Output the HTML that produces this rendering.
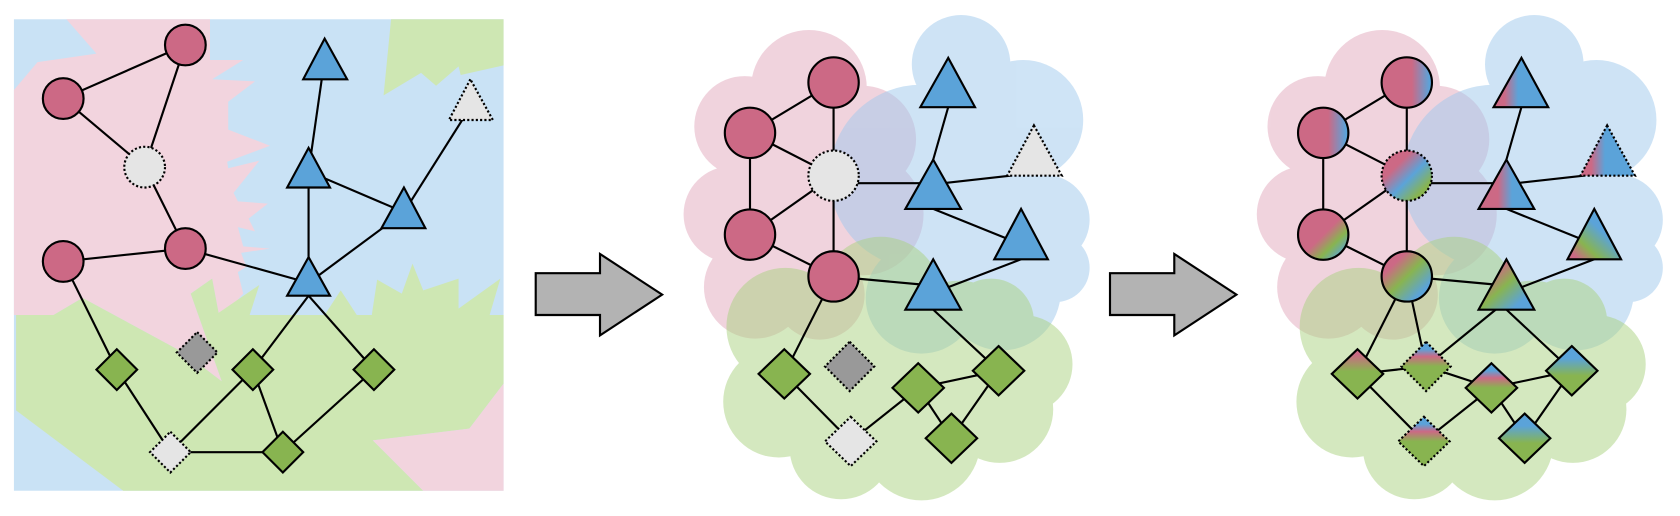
<!DOCTYPE html>
<html><head><meta charset="utf-8"><style>html,body{margin:0;padding:0;background:#fff}svg{display:block}</style></head>
<body>
<svg width="1680" height="516" viewBox="0 0 1568 481.6" xmlns="http://www.w3.org/2000/svg">
<defs>
<linearGradient id="gH" x1="0" y1="0" x2="1" y2="0"><stop offset="0.6" stop-color="#cc6985"/><stop offset="0.95" stop-color="#5ba3d9"/></linearGradient>
<linearGradient id="gT" x1="0" y1="0" x2="1" y2="0"><stop offset="0.2" stop-color="#cc6985"/><stop offset="0.45" stop-color="#5ba3d9"/></linearGradient>
<linearGradient id="gT3" x1="0" y1="0" x2="1" y2="0"><stop offset="0.35" stop-color="#cc6985"/><stop offset="0.6" stop-color="#5ba3d9"/></linearGradient>
<linearGradient id="gD1" x1="0" y1="0" x2="1" y2="1"><stop offset="0.3" stop-color="#cc6985"/><stop offset="0.55" stop-color="#5ba3d9"/><stop offset="0.8" stop-color="#88b450"/></linearGradient>
<linearGradient id="gD2" x1="0" y1="0" x2="1" y2="1"><stop offset="0.5" stop-color="#cc6985"/><stop offset="0.7" stop-color="#88b450"/><stop offset="0.9" stop-color="#5ba3d9"/></linearGradient>
<linearGradient id="gD3" x1="0" y1="0" x2="1" y2="1"><stop offset="0.25" stop-color="#cc6985"/><stop offset="0.5" stop-color="#88b450"/><stop offset="0.8" stop-color="#5ba3d9"/></linearGradient>
<linearGradient id="gT4" x1="0" y1="1" x2="1" y2="0"><stop offset="0.1" stop-color="#cc6985"/><stop offset="0.3" stop-color="#88b450"/><stop offset="0.6" stop-color="#5ba3d9"/></linearGradient>
<linearGradient id="gV1" x1="0" y1="0" x2="0" y2="1"><stop offset="0.15" stop-color="#5ba3d9"/><stop offset="0.3" stop-color="#cc6985"/><stop offset="0.5" stop-color="#88b450"/></linearGradient>
<linearGradient id="gV2" x1="0" y1="0" x2="0" y2="1"><stop offset="0.1" stop-color="#cc6985"/><stop offset="0.45" stop-color="#88b450"/></linearGradient>
<linearGradient id="gV3" x1="0" y1="0" x2="0" y2="1"><stop offset="0.25" stop-color="#5ba3d9"/><stop offset="0.6" stop-color="#88b450"/></linearGradient>
<g id="blobs">
 <g opacity="0.5" fill="#e3a9bd">
  <circle cx="1290" cy="82" r="54"/><circle cx="1230" cy="118" r="47"/><circle cx="1218" cy="200" r="45"/><circle cx="1240" cy="268" r="48"/><circle cx="1340" cy="130" r="50"/><circle cx="1340" cy="200" r="57"/><circle cx="1285" cy="175" r="70"/><circle cx="1300" cy="275" r="42"/>
 </g>
 <g opacity="0.5" fill="#9fc9ed">
  <circle cx="1432" cy="60" r="46"/><circle cx="1490" cy="112" r="56"/><circle cx="1510" cy="205" r="42"/><circle cx="1395" cy="165" r="86"/><circle cx="1455" cy="200" r="70"/><circle cx="1470" cy="272" r="55"/><circle cx="1395" cy="278" r="52"/><circle cx="1520" cy="250" r="32"/>
 </g>
 <g opacity="0.5" fill="#aad280">
  <circle cx="1357" cy="278" r="57"/><circle cx="1268" cy="305" r="55"/><circle cx="1262" cy="375" r="52"/><circle cx="1320" cy="418" r="48"/><circle cx="1395" cy="412" r="55"/><circle cx="1468" cy="382" r="50"/><circle cx="1490" cy="340" r="46"/><circle cx="1430" cy="322" r="60"/><circle cx="1345" cy="352" r="62"/><circle cx="1460" cy="300" r="40"/>
 </g>
</g>
</defs>

<!-- Panel 1 -->
<rect x="13" y="18" width="457" height="440" fill="#c9e2f5"/>
<polygon fill="#f2d4de" points="62,18 196,18 196,56 227,56 198,74 238,76 213,95 213,121 252,136 212,151 213,157 242,150 218,180 222,188 250,190 232,204 238,216 222,212 227,230 252,232 225,236 230,249 222,254 227,274 217,285 204,292 198,260 178,274 207,356 173,330 77,278 50,294 13,294 13,84 35,58 90,50"/>
<polygon fill="#cee7b3" points="365,18 470,18 470,61 430,70 428,62 407,80 393,68 358,89"/>
<polygon fill="#cee7b3" points="15,294 50,294 77,278 173,330 207,356 178,274 198,260 204,292 242,266 233,294 303,294 318,271 333,294 347,294 352,261 375,274 385,246 395,271 428,260 428,288 467,260 457,294 470,294 470,358 438,400 348,411 395,458 115,458 15,383"/>
<polygon fill="#f2d4de" points="470,358 438,400 348,411 395,458 470,458"/>
<g stroke="#000" stroke-width="2" fill="none">
<line x1="59" y1="92" x2="173" y2="42"/><line x1="59" y1="92" x2="135" y2="156"/><line x1="135" y1="156" x2="173" y2="42"/><line x1="135" y1="156" x2="173" y2="232"/><line x1="59" y1="244" x2="173" y2="232"/><line x1="173" y1="232" x2="288" y2="264"/>
<line x1="303" y1="55" x2="288" y2="160"/><line x1="288" y1="160" x2="288" y2="264"/><line x1="288" y1="160" x2="377" y2="198"/><line x1="377" y1="198" x2="439" y2="100"/><line x1="377" y1="198" x2="288" y2="264"/>
<line x1="59" y1="244" x2="109" y2="345"/><line x1="109" y1="345" x2="159" y2="422"/><line x1="159" y1="422" x2="236" y2="345"/><line x1="159" y1="422" x2="264" y2="422"/><line x1="236" y1="345" x2="264" y2="422"/><line x1="236" y1="345" x2="288" y2="276"/><line x1="349" y1="345" x2="288" y2="276"/><line x1="349" y1="345" x2="264" y2="422"/>
</g>
<g stroke="#000" stroke-width="2">
<circle cx="173" cy="42" r="19" fill="#cc6985"/><circle cx="59" cy="92" r="19" fill="#cc6985"/><circle cx="173" cy="232" r="19" fill="#cc6985"/><circle cx="59" cy="244" r="19" fill="#cc6985"/>
<circle cx="135" cy="156" r="19" fill="#e5e5e5" stroke-dasharray="2,2"/>
<polygon points="303,36 283,74 324,74" fill="#5ba3d9"/><polygon points="288,138 268,175 308,175" fill="#5ba3d9"/><polygon points="377,175 356,213 397,213" fill="#5ba3d9"/><polygon points="288,240 268,276 308,276" fill="#5ba3d9"/>
<polygon points="439,74 419,112 460,112" fill="#e5e5e5" stroke-dasharray="2,2"/>
<polygon points="109,326 128,345 109,364 90,345" fill="#88b450"/><polygon points="236,326 255,345 236,364 217,345" fill="#88b450"/><polygon points="349,326 368,345 349,364 330,345" fill="#88b450"/><polygon points="264,403 283,422 264,441 245,422" fill="#88b450"/>
<polygon points="184,310 203,329 184,348 165,329" fill="#999" stroke-dasharray="2,2"/>
<polygon points="159,403 178,422 159,441 140,422" fill="#e5e5e5" stroke-dasharray="2,2"/>
</g>

<!-- Arrows -->
<polygon points="500,255 560,255 560,237 618,275 560,313 560,294 500,294" fill="#b3b3b3" stroke="#000" stroke-width="2"/>
<polygon points="1036,255 1096,255 1096,237 1154,275 1096,313 1096,294 1036,294" fill="#b3b3b3" stroke="#000" stroke-width="2"/>

<!-- Panel 2 -->
<g transform="translate(-535,0)">
<use href="#blobs"/>
<g stroke="#000" stroke-width="2" fill="none">
<line x1="1313" y1="77" x2="1235" y2="124"/><line x1="1313" y1="77" x2="1313" y2="164"/><line x1="1235" y1="124" x2="1313" y2="164"/><line x1="1235" y1="124" x2="1235" y2="219"/><line x1="1235" y1="219" x2="1313" y2="164"/><line x1="1235" y1="219" x2="1313" y2="258"/><line x1="1313" y1="164" x2="1313" y2="258"/><line x1="1313" y1="171" x2="1400" y2="171"/>
<line x1="1420" y1="100" x2="1406" y2="149"/><line x1="1406" y1="172" x2="1478" y2="164"/><line x1="1406" y1="195" x2="1478" y2="224"/><line x1="1488" y1="242" x2="1415" y2="270"/><line x1="1313" y1="258" x2="1400" y2="266"/>
<line x1="1313" y1="258" x2="1267" y2="349"/><line x1="1406" y1="289" x2="1467" y2="346"/><line x1="1267" y1="349" x2="1329" y2="412"/><line x1="1329" y1="412" x2="1392" y2="362"/><line x1="1392" y1="362" x2="1467" y2="346"/><line x1="1392" y1="362" x2="1423" y2="409"/><line x1="1423" y1="409" x2="1467" y2="346"/>
</g>
<g stroke="#000" stroke-width="2">
<circle cx="1313" cy="77" r="23.5" fill="#cc6985"/><circle cx="1235" cy="124" r="23.5" fill="#cc6985"/><circle cx="1235" cy="219" r="23.5" fill="#cc6985"/><circle cx="1313" cy="258" r="23.5" fill="#cc6985"/>
<circle cx="1313" cy="164" r="23.5" fill="#e5e5e5" stroke-dasharray="2,2"/>
<polygon points="1420,54 1394,100 1445,100" fill="#5ba3d9"/><polygon points="1406,149 1380,195 1432,195" fill="#5ba3d9"/><polygon points="1488,195 1463,242 1513,242" fill="#5ba3d9"/><polygon points="1406,242 1380,289 1432,289" fill="#5ba3d9"/>
<polygon points="1500,117 1475,164 1526,164" fill="#e5e5e5" stroke-dasharray="2,2"/>
<polygon points="1267,326 1291,349 1267,372 1243,349" fill="#88b450"/>
<polygon points="1328,319 1351,342 1328,365 1305,342" fill="#999" stroke-dasharray="2,2"/>
<polygon points="1392,339 1416,362 1392,385 1368,362" fill="#88b450"/>
<polygon points="1467,323 1491,346 1467,369 1443,346" fill="#88b450"/>
<polygon points="1329,389 1353,412 1329,435 1305,412" fill="#e5e5e5" stroke-dasharray="2,2"/>
<polygon points="1423,386 1447,409 1423,432 1399,409" fill="#88b450"/>
</g>
</g>

<!-- Panel 3 -->
<use href="#blobs"/>
<g stroke="#000" stroke-width="2" fill="none">
<line x1="1313" y1="77" x2="1235" y2="124"/><line x1="1313" y1="77" x2="1313" y2="164"/><line x1="1235" y1="124" x2="1313" y2="164"/><line x1="1235" y1="124" x2="1235" y2="219"/><line x1="1235" y1="219" x2="1313" y2="164"/><line x1="1235" y1="219" x2="1313" y2="258"/><line x1="1313" y1="164" x2="1313" y2="258"/><line x1="1313" y1="171" x2="1400" y2="171"/>
<line x1="1420" y1="100" x2="1406" y2="149"/><line x1="1406" y1="172" x2="1478" y2="164"/><line x1="1406" y1="195" x2="1478" y2="224"/><line x1="1488" y1="242" x2="1415" y2="270"/><line x1="1313" y1="258" x2="1400" y2="266"/>
<line x1="1313" y1="258" x2="1267" y2="349"/><line x1="1313" y1="258" x2="1331" y2="342"/><line x1="1331" y1="342" x2="1396" y2="289"/><line x1="1406" y1="289" x2="1467" y2="346"/>
<line x1="1267" y1="349" x2="1331" y2="342"/><line x1="1331" y1="342" x2="1392" y2="362"/><line x1="1267" y1="349" x2="1329" y2="412"/><line x1="1329" y1="412" x2="1392" y2="362"/><line x1="1392" y1="362" x2="1467" y2="346"/><line x1="1392" y1="362" x2="1423" y2="409"/><line x1="1423" y1="409" x2="1467" y2="346"/>
</g>
<g stroke="#000" stroke-width="2">
<circle cx="1313" cy="77" r="23.5" fill="url(#gH)"/><circle cx="1235" cy="124" r="23.5" fill="url(#gH)"/><circle cx="1235" cy="219" r="23.5" fill="url(#gD2)"/><circle cx="1313" cy="258" r="23.5" fill="url(#gD3)"/>
<circle cx="1313" cy="164" r="23.5" fill="url(#gD1)" stroke-dasharray="2,2"/>
<polygon points="1420,54 1394,100 1445,100" fill="url(#gT)"/><polygon points="1406,149 1380,195 1432,195" fill="url(#gT3)"/><polygon points="1488,195 1463,242 1513,242" fill="url(#gT4)"/><polygon points="1406,242 1380,289 1432,289" fill="url(#gD3)"/>
<polygon points="1500,117 1475,164 1526,164" fill="url(#gT)" stroke-dasharray="2,2"/>
<polygon points="1267,326 1291,349 1267,372 1243,349" fill="url(#gV2)"/>
<polygon points="1331,319 1354,342 1331,365 1308,342" fill="url(#gV1)" stroke-dasharray="2,2"/>
<polygon points="1392,339 1416,362 1392,385 1368,362" fill="url(#gV1)"/>
<polygon points="1467,323 1491,346 1467,369 1443,346" fill="url(#gV3)"/>
<polygon points="1329,389 1353,412 1329,435 1305,412" fill="url(#gV1)" stroke-dasharray="2,2"/>
<polygon points="1423,386 1447,409 1423,432 1399,409" fill="url(#gV3)"/>
</g>
</svg>
</body></html>
